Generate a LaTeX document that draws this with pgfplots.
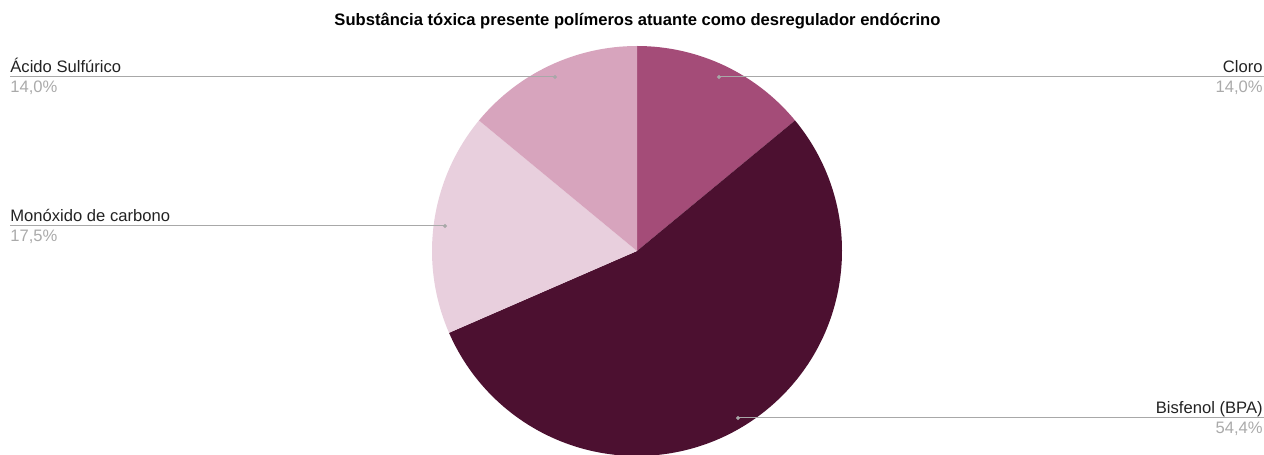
\documentclass[border=0pt]{standalone}
\usepackage{pgfplots}
\usepackage{pgfplotstable}
\pgfplotsset{compat=1.18}
\usepackage{fontspec}
\setmainfont{Liberation Sans}
\definecolor{ccloro}{HTML}{A44C78}
\definecolor{cbis}{HTML}{4C1030}
\definecolor{cmono}{HTML}{E8CFDD}
\definecolor{cacido}{HTML}{D7A4BD}
\definecolor{lbl}{HTML}{222222}
\definecolor{pct}{HTML}{AAAAAA}
\definecolor{lead}{HTML}{A8A8A8}
\pgfplotstableread{
idx value
0 14.0
1 54.4
2 17.5
3 14.0
}\piedata
\gdef\cum{0}
\newcommand\slicecalc[2]{%
  \pgfplotstablegetelem{#1}{value}\of\piedata
  \pgfmathsetmacro{\tmpa}{90-\cum/99.9*360}%
  \pgfmathsetmacro{\tmpc}{\cum+\pgfplotsretval}%
  \pgfmathsetmacro{\tmpb}{90-\tmpc/99.9*360}%
  \expandafter\xdef\csname sa#2\endcsname{\tmpa}%
  \expandafter\xdef\csname ea#2\endcsname{\tmpb}%
  \xdef\cum{\tmpc}}
\tikzset{lblf/.style={inner sep=0, font=\fontsize{8.3pt}{9pt}\selectfont}}
\begin{document}
\begin{tikzpicture}
\slicecalc{0}{A}\slicecalc{1}{B}\slicecalc{2}{C}\slicecalc{3}{D}
\begin{axis}[
  width=632pt, height=227.5pt, scale only axis,
  xmin=0, xmax=1264, ymin=0, ymax=455,
  hide axis, clip=true,
]
\fill[ccloro] (axis cs:637,204) -- ++(\saA:102.5pt) arc[start angle=\saA, end angle=\eaA, radius=102.5pt] -- cycle;
\fill[cbis] (axis cs:637,204) -- ++(\saB:102.5pt) arc[start angle=\saB, end angle=\eaB, radius=102.5pt] -- cycle;
\fill[cmono] (axis cs:637,204) -- ++(\saC:102.5pt) arc[start angle=\saC, end angle=\eaC, radius=102.5pt] -- cycle;
\fill[cacido] (axis cs:637,204) -- ++(\saD:102.5pt) arc[start angle=\saD, end angle=\eaD, radius=102.5pt] -- cycle;
% leader lines (from label side to slice dot)
\addplot[lead, line width=0.5pt, mark=*, mark size=0.7pt, mark indices={2}] coordinates {(1264,378) (719,378)};
\addplot[lead, line width=0.5pt, mark=*, mark size=0.7pt, mark indices={2}] coordinates {(10,378) (555,378)};
\addplot[lead, line width=0.5pt, mark=*, mark size=0.7pt, mark indices={2}] coordinates {(10,229) (445,229)};
\addplot[lead, line width=0.5pt, mark=*, mark size=0.7pt, mark indices={2}] coordinates {(1264,37) (738,37)};
% labels
\node[lblf, anchor=base west, text=lbl] at (axis cs:10,382) {Ácido Sulfúrico};
\node[lblf, anchor=north west, text=pct] at (axis cs:10,374) {14,0\%};
\node[lblf, anchor=base east, text=lbl] at (axis cs:1263,382) {Cloro};
\node[lblf, anchor=north east, text=pct] at (axis cs:1263,374) {14,0\%};
\node[lblf, anchor=base west, text=lbl] at (axis cs:10,233) {Monóxido de carbono};
\node[lblf, anchor=north west, text=pct] at (axis cs:10,225) {17,5\%};
\node[lblf, anchor=base east, text=lbl] at (axis cs:1263,41) {Bisfenol (BPA)};
\node[lblf, anchor=north east, text=pct] at (axis cs:1263,33) {54,4\%};
\node[anchor=base, inner sep=0, text=black, font=\bfseries\fontsize{8.3pt}{9pt}\selectfont] at (axis cs:637.5,429) {Substância tóxica presente polímeros atuante como desregulador endócrino};
\end{axis}
\pgfresetboundingbox
\useasboundingbox (current axis.south west) rectangle (current axis.north east);
\end{tikzpicture}
\end{document}
